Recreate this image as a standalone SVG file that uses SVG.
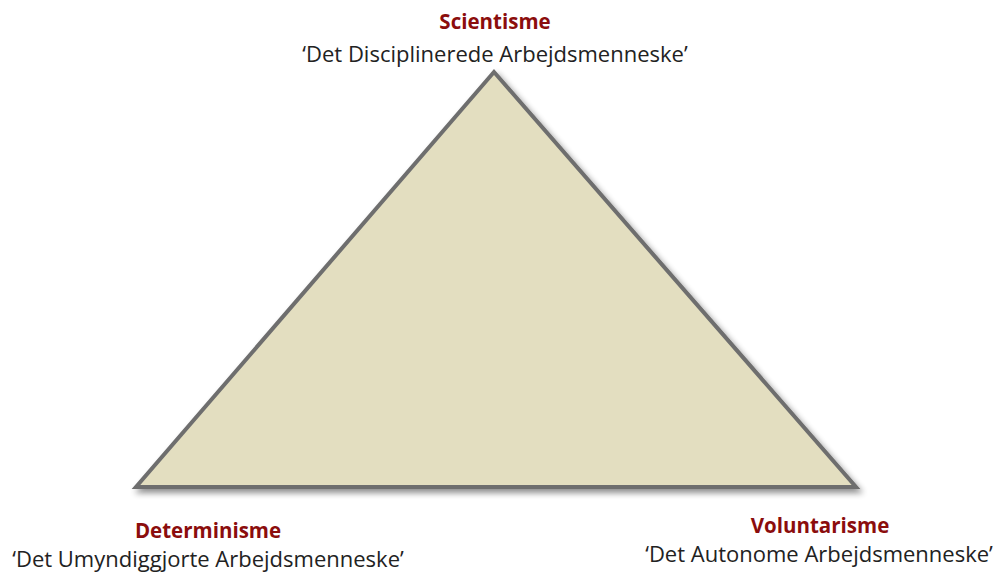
<svg xmlns="http://www.w3.org/2000/svg" width="996" height="573" viewBox="0 0 996 573">
  <style>
    .title { font-family: "Open Sans", "Liberation Sans", sans-serif; font-weight: bold; font-size: 20.5px; fill: #8b0d0d; text-anchor: middle; }
    .sub { font-family: "Open Sans", "Liberation Sans", sans-serif; font-size: 22px; fill: #222222; text-anchor: middle; }
  </style>
  <defs>
    <filter id="shadow" x="-10%" y="-10%" width="125%" height="130%">
      <feGaussianBlur in="SourceAlpha" stdDeviation="3"/>
      <feOffset dx="3" dy="4" result="b"/>
      <feComponentTransfer><feFuncA type="linear" slope="0.45"/></feComponentTransfer>
      <feMerge><feMergeNode/><feMergeNode in="SourceGraphic"/></feMerge>
    </filter>
  </defs>
  <rect width="996" height="573" fill="#ffffff"/>

  <g id="triangle">
    <polygon points="494,72 136,487 856,487" fill="#e3dec0" stroke="#6e6e6e" stroke-width="4" stroke-linejoin="miter" filter="url(#shadow)"/>
  </g>

  <g id="scientisme">
    <text class="title" x="495" y="29">Scientisme</text>
    <text class="sub" x="495" y="62">‘Det Disciplinerede Arbejdsmenneske’</text>
  </g>

  <g id="determinisme">
    <text class="title" x="208" y="538">Determinisme</text>
    <text class="sub" x="208" y="567">‘Det Umyndiggjorte Arbejdsmenneske’</text>
  </g>

  <g id="voluntarisme">
    <text class="title" x="820" y="533">Voluntarisme</text>
    <text class="sub" x="819" y="562">‘Det Autonome Arbejdsmenneske’</text>
  </g>
</svg>
